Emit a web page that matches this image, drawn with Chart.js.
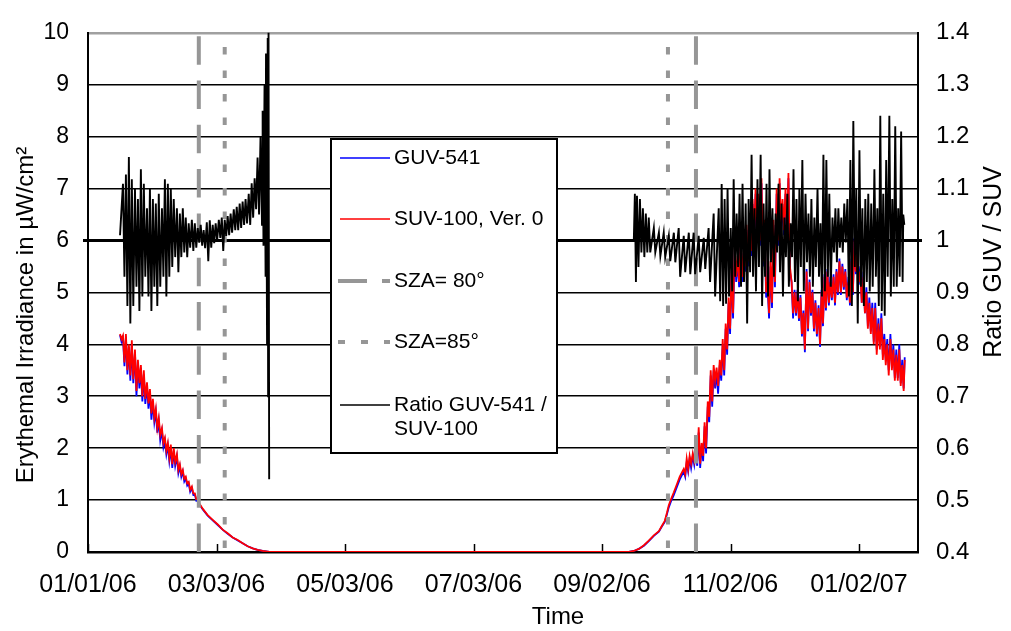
<!DOCTYPE html>
<html><head><meta charset="utf-8">
<style>html,body{margin:0;padding:0;background:#fff}</style>
<script src="https://cdn.jsdelivr.net/npm/chart.js@4.4.0/dist/chart.umd.min.js"></script>
</head><body>
<canvas id="c" width="1011" height="631"></canvas>
<script>
// ---- Data (x = days since 01/01/06) ----
const xTickDays = [0, 61, 122, 183, 244, 305, 366];
const xTickLabels = ['01/01/06','03/03/06','05/03/06','07/03/06','09/02/06','11/02/06','01/02/07'];
const sza80Days = [52.6, 288.6];
const sza85Days = [64.9, 275.3];

// spring (noisy decline)
const springDays = [15.2,15.9, 16.6,17.3, 18.0,18.7, 19.4,20.1, 20.8,21.5, 22.3,23.0, 23.7,24.4, 25.1,25.8, 26.5,27.2,
  28.0,28.7, 29.4,30.1, 30.8,31.5, 32.2,32.9, 33.6,34.3, 35.1,35.8, 36.5,37.2, 37.9,38.6, 39.3,40.0,
  40.7,41.4, 42.2,42.9, 43.6,44.3, 45.0,45.7, 46.4,47.1, 47.8,48.5, 49.3,50.0, 50.7,51.4, 52.1,52.8];
const springSuv = [4.2,4.1, 4.17,3.65, 4.2,3.5, 4.0,3.4, 4.08,3.33, 3.9,3.1, 3.7,3.25, 3.6,3.0, 3.5,2.95,
  3.27,2.86, 3.14,2.67, 2.95,2.58, 2.76,2.39, 2.58,2.26, 2.39,2.1, 2.2,1.95, 2.1,1.82, 2.07,1.69,
  2.0,1.73, 1.88,1.58, 1.69,1.5, 1.58,1.41, 1.45,1.32, 1.35,1.2, 1.26,1.13, 1.13,1.02, 1.02,0.94];
const springGuv = [4.18,4.05, 4.12,3.58, 4.15,3.42, 3.95,3.3, 4.0,3.25, 3.85,3.0, 3.62,3.15, 3.55,2.9, 3.42,2.85,
  3.2,2.76, 3.08,2.55, 2.9,2.5, 2.7,2.3, 2.52,2.15, 2.33,2.02, 2.15,1.88, 2.05,1.75, 2.0,1.62,
  1.95,1.66, 1.84,1.52, 1.65,1.45, 1.55,1.36, 1.42,1.28, 1.32,1.16, 1.23,1.1, 1.11,0.99, 1.0,0.92];

// smooth low-sun / polar night part
const baseDays = [54.5,56.8,59.2,61.6,63.9,66.3,68.7,71.1,73.4,75.8,78.2,80.5,82.9,
  86.2,120,160,200,240,256.7,
  259.1,261.5,263.9,266.2,268.6,271.0,272.4,273.8,274.8,275.7,276.6,278.1,279.5,280.9];
const baseSuv = [0.83,0.71,0.62,0.53,0.43,0.36,0.28,0.23,0.17,0.11,0.07,0.04,0.02,
  0,0,0,0,0,0,
  0.02,0.06,0.13,0.22,0.32,0.40,0.5,0.6,0.75,0.9,1.0,1.15,1.3,1.45];
const baseGuv = [0.82,0.7,0.61,0.52,0.43,0.35,0.28,0.22,0.17,0.11,0.07,0.04,0.02,
  0,0,0,0,0,0,
  0.02,0.06,0.12,0.21,0.31,0.39,0.49,0.58,0.72,0.86,0.96,1.1,1.25,1.4];

// spring/summer (noisy rise)
const autumnDays = [282.8,283.5, 284.2,284.9, 285.6,286.3, 287.1,287.8, 288.5,289.2, 289.9,290.6, 291.3,292.0, 292.7,293.4,
  294.2,294.9, 295.6,296.3, 297.0,297.7, 298.4,299.1, 299.9,300.6, 301.3,302.0, 302.7,303.4, 304.1,304.8,
  305.5,306.2, 307.0,307.7, 308.4,309.1, 309.8,310.5, 311.2,311.9, 312.6,313.3, 314.1,314.8, 315.5,316.2,
  316.9,317.6, 318.3,319.0, 319.7,320.4, 321.2,321.9, 322.6,323.3, 324.0,324.7, 325.4,326.1, 326.9,327.6,
  328.3,329.0, 329.7,330.4, 331.1,331.8, 332.5,333.2, 334.0,334.7, 335.4,336.1, 336.8,337.5, 338.2,338.9,
  339.6,340.3, 341.1,341.8, 342.5,343.2, 343.9,344.6, 345.3,346.0, 346.8,347.5, 348.2,348.9, 349.6,350.3,
  351.0,351.7, 352.4,353.1, 353.9,354.6, 355.3,356.0, 356.7,357.4, 358.1,358.8, 359.5,360.2, 361.0,361.7,
  362.4,363.1, 363.8,364.5, 365.2,365.9, 366.6,367.3, 368.1,368.8, 369.5,370.2, 370.9,371.6, 372.3,373.0,
  373.7,374.4, 375.2,375.9, 376.6,377.3, 378.0,378.7, 379.4,380.1, 380.9,381.6, 382.3,383.0, 383.7,384.4,
  385.1,385.8, 386.5,387.2, 387.7];
const autumnSuv = [1.6,1.5, 1.8,1.6, 1.85,1.7, 1.9,1.75, 1.95,1.75, 2.4,1.7, 2.1,1.85, 2.5,2.0,
  2.9,2.6, 3.5,2.9, 3.6,3.3, 3.55,3.2, 3.7,3.4, 4.1,3.5, 4.4,3.9, 4.9,4.3,
  5.5,4.6, 5.9,5.3, 5.7,5.2, 6.0,5.3, 5.8,5.5, 6.3,5.6, 6.5,5.8, 6.8,6.0,
  7.0,6.2, 6.9,6.0, 7.2,5.6, 6.4,5.0, 5.2,4.6, 5.6,4.8, 6.4,5.2, 7.0,6.0,
  7.2,6.3, 6.8,6.2, 7.0,6.2, 7.3,5.5, 5.2,4.6, 5.0,4.6, 5.0,4.5, 4.9,4.2,
  4.6,3.9, 5.4,4.3, 5.2,4.6, 5.0,4.3, 4.8,4.2, 4.7,4.0, 5.0,4.4, 5.3,4.7,
  5.4,4.8, 5.2,4.9, 5.3,4.8, 5.4,5.0, 5.6,5.0, 5.5,5.1, 5.4,4.9, 5.2,4.8,
  5.6,5.0, 6.0,5.4, 5.8,5.2, 5.4,4.8, 5.3,4.6, 5.0,4.3, 4.8,4.2, 4.7,4.0,
  4.7,3.8, 4.4,3.9, 4.5,3.7, 4.1,3.6, 4.0,3.4, 4.1,3.5, 3.9,3.3, 3.8,3.3,
  3.9,3.2, 3.6,3.1, 3.7];
const autumnGuv = [1.55,1.45, 1.72,1.55, 1.8,1.62, 1.85,1.68, 1.9,1.66, 2.3,1.62, 2.05,1.75, 2.42,1.9,
  2.8,2.5, 3.4,2.8, 3.5,3.15, 3.45,3.05, 3.6,3.3, 4.0,3.4, 4.3,3.8, 4.8,4.2,
  5.4,4.5, 5.8,5.2, 5.6,5.1, 5.95,5.2, 5.75,5.4, 6.2,5.5, 6.4,5.7, 6.7,5.9,
  6.9,6.1, 6.85,5.9, 7.1,5.5, 6.3,4.9, 5.1,4.5, 5.5,4.7, 6.3,5.1, 6.9,5.9,
  7.1,6.2, 6.7,6.1, 6.9,6.1, 7.2,5.4, 5.2,4.5, 5.05,4.55, 5.05,4.45, 4.95,4.15,
  4.65,3.85, 5.45,4.25, 5.25,4.55, 5.05,4.25, 4.85,4.15, 4.75,3.95, 5.05,4.35, 5.35,4.65,
  5.45,4.75, 5.3,4.85, 5.35,4.75, 5.45,4.95, 5.65,4.95, 5.55,5.05, 5.45,4.85, 5.3,4.75,
  5.65,4.95, 6.05,5.35, 5.85,5.15, 5.5,4.8, 5.4,4.6, 5.1,4.35, 4.9,4.25, 4.8,4.05,
  4.8,3.9, 4.5,3.95, 4.6,3.8, 4.2,3.7, 4.1,3.5, 4.2,3.55, 4.0,3.35, 3.9,3.35,
  4.0,3.25, 3.7,3.15, 3.75];

// ratio GUV-541 / SUV-100 (right axis)
const ratioSpringDays = [15.2, 16.6,17.3, 18.0,18.7, 19.4,20.1, 20.8,21.5, 22.3,23.0, 23.7,24.4, 25.1,25.8,
  26.5,27.2, 28.0,28.7, 29.4,30.1, 30.8,31.5, 32.2,32.9, 33.6,34.3, 35.1,35.8, 36.5,37.2, 37.9,38.6,
  39.3,40.0, 40.7,41.4, 42.2,42.9, 43.6,44.3, 45.0,45.7, 46.4,47.1, 47.8,48.5, 49.3,50.0, 50.7,51.4,
  52.1,52.8, 53.5,54.2, 54.9,55.6, 56.4,57.1, 57.8,58.5, 59.2,59.9, 60.6,61.3, 62.1,62.8, 63.5,64.2,
  64.9,65.6, 66.3,67.0, 67.7,68.4, 69.2,69.9, 70.6,71.3, 72.0,72.7, 73.4,74.1, 74.8,75.5, 76.3,77.0,
  77.7,78.4, 79.1,79.8, 80.5,81.2, 81.9,82.6, 82.9,83.3, 83.8,84.3, 84.5,85.0, 85.3,85.5, 85.7,86.0];
const ratioSpring = [1.01, 1.109,0.93, 1.127,0.874, 1.161,0.84, 1.118,0.874, 1.099,0.911, 1.08,0.864, 1.137,0.892,
  1.109,0.93, 1.062,0.892, 1.099,0.864, 1.08,0.911, 1.071,0.874, 1.09,0.911, 1.062,0.93, 1.118,0.892, 1.109,0.93,
  1.099,0.949, 1.08,0.968, 1.062,0.939, 1.052,0.968, 1.062,0.977, 1.044,0.968, 1.033,0.986, 1.04,0.98, 1.033,0.986,
  1.024,0.996, 1.03,0.99, 1.02,0.985, 1.035,0.96, 1.039,0.986, 1.03,0.995, 1.033,1.0, 1.04,1.005, 1.044,0.98,
  1.04,1.009, 1.047,1.01, 1.052,1.015, 1.06,1.02, 1.065,1.02, 1.071,1.024, 1.075,1.03, 1.08,1.033, 1.09,1.03,
  1.11,1.044, 1.12,1.06, 1.16,1.05, 1.2,1.03, 1.25,0.99, 1.3,0.93, 1.36,0.8, 1.39,0.7, 1.41,0.54];
const ratioAutumnDays = [259.1, 259.6,260.1, 260.6,261.3, 262.0,262.7, 263.4,264.1, 264.8,265.5, 266.2,266.9,
  268.6,269.3, 271.0,271.7, 273.3,274.0, 275.7,276.4, 278.1,278.8, 280.4,281.1, 282.8,283.5, 285.2,285.9,
  287.5,288.2, 289.9,290.6, 292.3,293.0, 294.6,295.3, 297.0,297.7, 299.4,300.1,
  300.8,301.5, 302.2,302.9, 303.6,304.3, 305.1,305.8, 306.5,307.2, 307.9,308.6, 309.3,310.0, 310.7,311.4,
  312.2,312.9, 313.6,314.3, 315.0,315.7, 316.4,317.1, 317.8,318.5, 319.3,320.0, 320.7,321.4, 322.1,322.8,
  323.5,324.2, 324.9,325.6, 326.4,327.1, 327.8,328.5, 329.2,329.9, 330.6,331.3, 332.0,332.7, 333.5,334.2,
  334.9,335.6, 336.3,337.0, 337.7,338.4, 339.1,339.8, 340.6,341.3, 342.0,342.7, 343.4,344.1, 344.8,345.5,
  346.3,347.0, 347.7,348.4, 349.1,349.8, 350.5,351.2, 351.9,352.6, 353.4,354.1, 354.8,355.5, 356.2,356.9,
  357.6,358.3, 359.0,359.7, 360.5,361.2, 361.9,362.6, 363.3,364.0, 364.7,365.4, 366.2,366.9, 367.6,368.3,
  369.0,369.7, 370.4,371.1, 371.8,372.5, 373.3,374.0, 374.7,375.4, 376.1,376.8, 377.5,378.2, 378.9,379.6,
  380.4,381.1, 381.8,382.5, 383.2,383.9, 384.6,385.3, 386.0,386.7, 387.0,387.5];
const ratioAutumn = [1.0, 1.09,0.92, 1.086,0.949, 1.08,0.977, 1.062,0.968, 1.052,0.977, 1.044,0.977,
  1.024,0.977, 1.015,0.97, 1.015,0.968, 1.009,0.96, 1.015,0.958, 1.024,0.93, 1.009,0.939, 1.015,0.935,
  1.015,0.935, 1.009,0.939, 1.005,0.945, 1.024,0.92, 1.052,0.892, 1.062,0.883,
  1.109,0.874, 1.08,0.878, 1.099,0.892, 1.024,0.902, 1.118,0.93, 1.052,0.949, 1.09,0.911, 1.109,0.92,
  1.071,0.84, 1.08,0.939, 1.165,0.93, 1.062,0.902, 1.118,0.949, 1.165,0.874, 1.071,0.93, 1.109,0.892,
  1.137,0.958, 1.062,0.93, 1.052,0.977, 1.109,0.939, 1.071,0.892, 1.044,0.968, 1.09,0.911, 1.033,0.968,
  1.137,0.92, 1.08,0.883, 1.099,0.949, 1.155,0.902, 1.09,0.958, 1.052,0.93, 1.08,0.911, 1.044,0.949,
  1.099,0.93, 1.033,0.892, 1.165,0.902, 1.155,0.93, 1.09,0.911, 1.044,0.977, 1.062,0.958, 1.062,0.986,
  1.044,0.977, 1.071,0.996, 1.08,0.892, 1.155,0.874, 1.23,0.949, 1.099,0.84, 1.174,0.911, 1.062,0.874,
  1.08,0.92, 1.09,0.902, 1.071,0.911, 1.137,0.93, 1.062,0.874, 1.24,0.864, 1.09,0.855, 1.155,0.93,
  1.24,0.892, 1.08,0.911, 1.22,0.911, 1.062,0.93, 1.21,0.92, 1.05,1.03];

function check(a,b,n){ if(a.length!==b.length) throw new Error(n+': '+a.length+' vs '+b.length); }
check(springDays,springSuv,'springSuv'); check(springDays,springGuv,'springGuv');
check(baseDays,baseSuv,'baseSuv'); check(baseDays,baseGuv,'baseGuv');
check(autumnDays,autumnSuv,'autumnSuv'); check(autumnDays,autumnGuv,'autumnGuv');
check(ratioSpringDays,ratioSpring,'ratioSpring'); check(ratioAutumnDays,ratioAutumn,'ratioAutumn');

const irrDays = springDays.concat(baseDays, autumnDays);
const suvValues = springSuv.concat(baseSuv, autumnSuv);
const guvValues = springGuv.concat(baseGuv, autumnGuv);
const toXY = (xs, ys) => xs.map((x, i) => ({x, y: ys[i]}));
const ratioData = toXY(ratioSpringDays, ratioSpring).concat([{x: 170, y: null}], toXY(ratioAutumnDays, ratioAutumn));

const FONT = "'Liberation Sans', Arial, sans-serif";
const GRAY = '#969696';

const vlineSets = [];
sza80Days.forEach(d => vlineSets.push({type:'line', data:[{x:d,y:0},{x:d,y:10}], borderColor:GRAY, borderWidth:4,
  borderDash:[28.5,15.8], pointRadius:0, yAxisID:'y', order:1, borderCapStyle:'butt'}));
sza85Days.forEach(d => vlineSets.push({type:'line', data:[{x:d,y:0},{x:d,y:10}], borderColor:GRAY, borderWidth:4,
  borderDash:[7.5,16], borderDashOffset:19.5, pointRadius:0, yAxisID:'y', order:1, borderCapStyle:'butt'}));

const overlay = {
  id: 'overlay',
  beforeDatasetsDraw(chart) {
    const {ctx, scales: {x, y}} = chart;
    ctx.save();
    const yp = Math.round(y.getPixelForValue(6)) + 0.5;
    ctx.strokeStyle = '#000'; ctx.lineWidth = 3;
    ctx.beginPath(); ctx.moveTo(x.left - 5, yp); ctx.lineTo(x.right + 4, yp); ctx.stroke();
    ctx.lineWidth = 1.5;
    xTickDays.forEach(d => {
      const xp = Math.round(x.getPixelForValue(d)) + 0.5;
      ctx.beginPath(); ctx.moveTo(xp, y.bottom); ctx.lineTo(xp, y.bottom - 8); ctx.stroke();
    });
    ctx.restore();
  },
  afterDraw(chart) {
    const ctx = chart.ctx;
    ctx.save();
    // legend
    const L = 331, T = 139, W = 226, H = 314;
    ctx.fillStyle = '#fff'; ctx.fillRect(L, T, W, H);
    ctx.strokeStyle = '#000'; ctx.lineWidth = 2; ctx.strokeRect(L, T, W, H);
    const items = [
      {y:158, color:'#0000ff', w:1.5, dash:[], text:['GUV-541']},
      {y:219, color:'#ff0000', w:1.5, dash:[], text:['SUV-100, Ver. 0']},
      {y:281, color:GRAY, w:4, dash:[29,15], text:['SZA= 80°']},
      {y:342, color:GRAY, w:4, dash:[7,16], text:['SZA=85°']},
      {y:405, color:'#000000', w:1.5, dash:[], text:['Ratio GUV-541 /','SUV-100']}
    ];
    ctx.font = '21px ' + FONT; ctx.textBaseline = 'middle'; ctx.textAlign = 'left';
    items.forEach(it => {
      ctx.save();
      ctx.strokeStyle = it.color; ctx.lineWidth = it.w; ctx.setLineDash(it.dash);
      ctx.beginPath(); ctx.moveTo(it.dash.length ? 338 : 340, it.y); ctx.lineTo(390, it.y); ctx.stroke();
      ctx.restore();
      ctx.fillStyle = '#000';
      it.text.forEach((t, k) => ctx.fillText(t, 394, it.y + k * 24));
    });
    // axis titles
    ctx.font = '24px ' + FONT; ctx.textAlign = 'center'; ctx.textBaseline = 'middle'; ctx.fillStyle = '#000';
    ctx.save(); ctx.translate(26, 315); ctx.rotate(-Math.PI / 2);
    ctx.fillText('Erythemal Irradiance in µW/cm²', 0, 0); ctx.restore();
    ctx.font = '25px ' + FONT;
    ctx.save(); ctx.translate(994, 262); ctx.rotate(-Math.PI / 2);
    ctx.fillText('Ratio GUV / SUV', 0, 0); ctx.restore();
    ctx.font = '24px ' + FONT;
    ctx.fillText('Time', 558, 617);
    ctx.restore();
  }
};

new Chart(document.getElementById('c'), {
  type: 'line',
  data: {
    datasets: [
      {label:'GUV-541', data: toXY(irrDays, guvValues), borderColor:'#0000ff', borderWidth:1.8, pointRadius:0, yAxisID:'y', order:3},
      {label:'SUV-100, Ver. 0', data: toXY(irrDays, suvValues), borderColor:'#ff0000', borderWidth:1.8, pointRadius:0, yAxisID:'y', order:2},
      ...vlineSets,
      {label:'Ratio GUV-541 / SUV-100', data: ratioData, borderColor:'#000', borderWidth:1.9, pointRadius:0, yAxisID:'y2', order:0, spanGaps:false}
    ]
  },
  options: {
    responsive: false,
    animation: false,
    events: [],
    layout: {padding: {top: 20, left: 0, right: 0, bottom: 0}},
    plugins: {legend: {display: false}, tooltip: {enabled: false}},
    elements: {line: {tension: 0, fill: false}},
    scales: {
      x: {
        type: 'linear', min: 0, max: 394,
        afterFit(s) { s.height = 79; },
        afterBuildTicks(s) { s.ticks = xTickDays.map(v => ({value: v})); },
        grid: {display: false},
        border: {display: true, color: '#000', width: 2.5},
        ticks: {autoSkip: false, maxRotation: 0, padding: 10, color: '#000', font: {family: FONT, size: 25},
          callback: v => { const i = xTickDays.indexOf(v); return i >= 0 ? xTickLabels[i] : ''; }}
      },
      y: {
        position: 'left', min: 0, max: 10,
        afterFit(s) { s.width = 88; },
        grid: {drawTicks: false, color: c => c.tick.value === 10 ? '#a0a0a0' : '#000',
               lineWidth: c => c.tick.value === 10 ? 2.5 : 1.5},
        border: {display: true, color: '#000', width: 2},
        ticks: {stepSize: 1, padding: 19, color: '#000', font: {family: FONT, size: 23}}
      },
      y2: {
        position: 'right', min: 0.4, max: 1.4,
        afterFit(s) { s.width = 93; },
        grid: {display: false, drawTicks: false},
        border: {display: true, color: '#000', width: 2},
        ticks: {stepSize: 0.1, padding: 18, color: '#000', font: {family: FONT, size: 24},
          callback: v => String(Math.round(v * 10) / 10)}
      }
    }
  },
  plugins: [overlay]
});
</script>
</body></html>
